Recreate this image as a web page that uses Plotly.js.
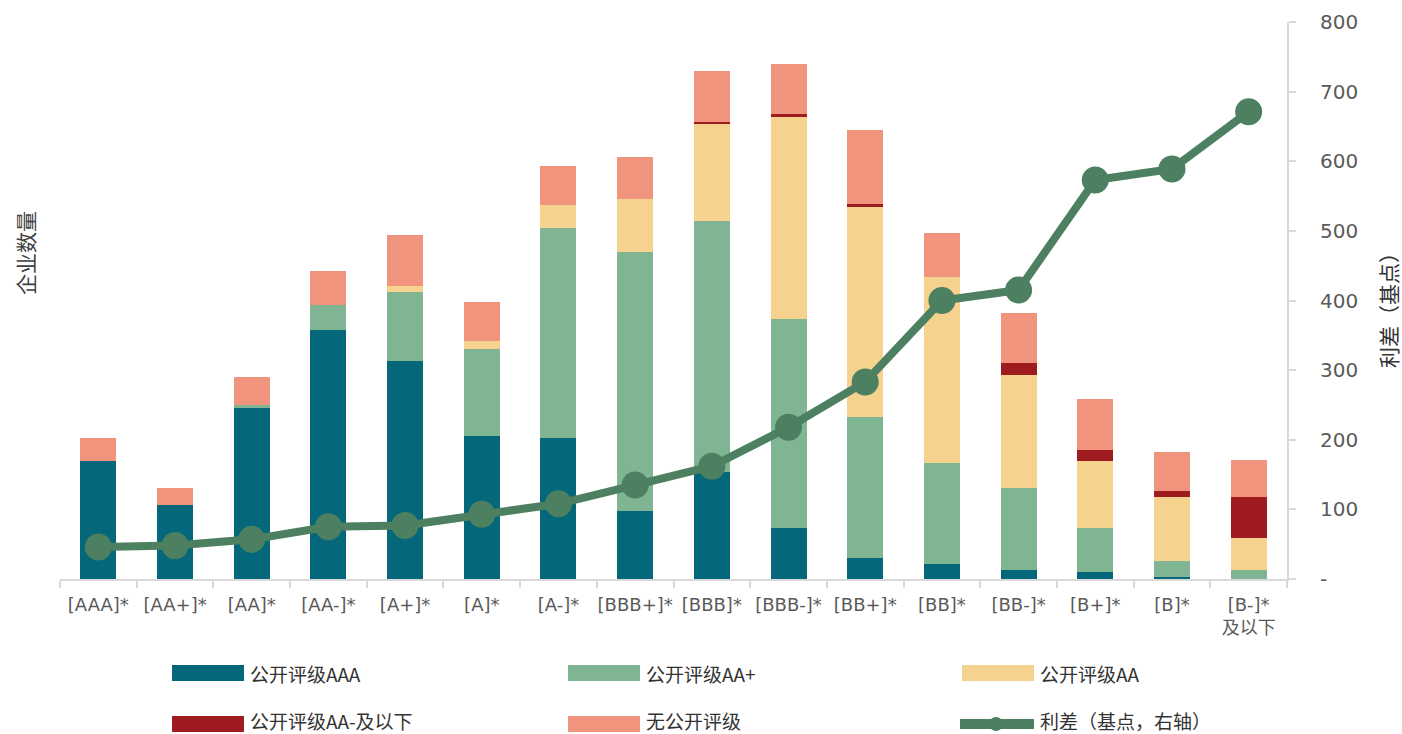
<!DOCTYPE html>
<html>
<head>
<meta charset="utf-8">
<script src="https://cdn.plot.ly/plotly-3.0.1.min.js"></script>
<style>
  html, body { margin: 0; padding: 0; background: #ffffff; }
  #chart { width: 1402px; height: 734px; }
</style>
</head>
<body>
<div id="chart"></div>
<script>
// ---- data ----
var categories = ['[AAA]*', '[AA+]*', '[AA]*', '[AA-]*', '[A+]*', '[A]*', '[A-]*', '[BBB+]*',
                  '[BBB]*', '[BBB-]*', '[BB+]*', '[BB]*', '[BB-]*', '[B+]*', '[B]*', '[B-]*<br>及以下'];
var ratedAAA   = [170, 106, 246, 358, 313, 205, 203,  98, 154,  73,  30,  21,  13,  10,   3,   0];
var ratedAAp   = [  0,   0,   4,  36,  99, 125, 301, 372, 360, 300, 203, 145, 118,  63,  23,  13];
var ratedAA    = [  0,   0,   0,   0,   9,  12,  33,  76, 139, 290, 301, 268, 162,  96,  92,  46];
var ratedAAm   = [  0,   0,   0,   0,   0,   0,   0,   0,   3,   5,   4,   0,  17,  16,   8,  59];
var unrated    = [ 33,  25,  40,  48,  73,  56,  56,  60,  74,  72, 107,  63,  72,  73,  57,  53];
var spreadBp   = [ 46,  48,  57,  75,  77,  93, 108, 135, 162, 218, 283, 400, 415, 573, 589, 671];
var rightTickVals = [0, 100, 200, 300, 400, 500, 600, 700, 800];
var rightTickText = ['-', '100', '200', '300', '400', '500', '600', '700', '800'];

var seriesNames  = ['公开评级AAA', '公开评级AA+', '公开评级AA', '公开评级AA-及以下', '无公开评级'];
var seriesValues = [ratedAAA, ratedAAp, ratedAA, ratedAAm, unrated];
var lineName = '利差（基点，右轴）';

// ---- styles ----
var seriesColors = ['#05687A', '#7FB593', '#F5D28E', '#9E1B20', '#F0947E'];
var lineColor = '#4C8060';
var W = 1402, H = 734;
var M = {l: 60, r: 115, t: 22, b: 155};
var plotW = W - M.l - M.r, plotH = H - M.t - M.b;
function px(x) { return (x - M.l) / plotW; }
function py(y) { return (H - M.b - y) / plotH; }

var traces = [];
for (var i = 0; i < seriesNames.length; i++) {
  traces.push({
    type: 'bar', name: seriesNames[i], x: categories, y: seriesValues[i],
    marker: {color: seriesColors[i], line: {width: 0}},
    yaxis: 'y', showlegend: false, hoverinfo: 'x+y+name'
  });
}
traces.push({
  type: 'scatter', mode: 'lines+markers', name: lineName, x: categories, y: spreadBp,
  yaxis: 'y2', line: {color: lineColor, width: 8}, marker: {color: lineColor, size: 27},
  showlegend: false
});

// custom legend (swatches + labels)
var shapes = [], annotations = [];
var colX = [172, 568, 962];
var rowY = [673, 720];
var legendItems = seriesNames.concat([lineName]);
for (var k = 0; k < legendItems.length; k++) {
  var c = k % 3, r = Math.floor(k / 3);
  var x0 = colX[c], yc = rowY[r];
  var sy = (r === 0) ? yc : yc + 4;
  if (k < seriesNames.length) {
    shapes.push({type: 'rect', xref: 'paper', yref: 'paper',
      x0: px(x0), x1: px(x0 + 72), y0: py(sy + 8), y1: py(sy - 8),
      fillcolor: seriesColors[k], line: {width: 0}});
  } else {
    shapes.push({type: 'line', xref: 'paper', yref: 'paper',
      x0: px(x0 - 2), x1: px(x0 + 72), y0: py(sy), y1: py(sy),
      line: {color: lineColor, width: 10}});
    shapes.push({type: 'circle', xref: 'paper', yref: 'paper',
      x0: px(x0 + 27), x1: px(x0 + 41), y0: py(sy + 7), y1: py(sy - 7),
      fillcolor: lineColor, line: {width: 0}});
  }
  annotations.push({xref: 'paper', yref: 'paper', x: px(x0 + 76), y: py(yc),
    xanchor: 'left', yanchor: 'middle', showarrow: false, text: legendItems[k],
    font: {size: 19, color: '#333333', family: 'Noto Sans CJK SC, DejaVu Sans, sans-serif'}});
}
// left axis title
annotations.push({xref: 'paper', yref: 'paper', x: px(25), y: py(253),
  xanchor: 'center', yanchor: 'middle', showarrow: false, text: '企业数量', textangle: -90,
  font: {size: 21, color: '#404040', family: 'Noto Sans CJK SC, sans-serif'}});
// right axis title
annotations.push({xref: 'paper', yref: 'paper', x: px(1388), y: py(305),
  xanchor: 'center', yanchor: 'middle', showarrow: false, text: '利差（基点）', textangle: -90,
  font: {size: 21, color: '#333333', family: 'Noto Sans CJK SC, sans-serif'}});

var layout = {
  width: W, height: H,
  margin: M,
  paper_bgcolor: '#ffffff', plot_bgcolor: '#ffffff',
  barmode: 'stack', bargap: 0.53,
  showlegend: false,
  font: {family: 'DejaVu Sans, Noto Sans CJK SC, sans-serif', color: '#595959'},
  xaxis: {
    type: 'category', range: [-0.5, categories.length - 0.5],
    showgrid: false, zeroline: false,
    showline: true, linecolor: '#d9d9d9', linewidth: 2,
    ticks: 'outside', tickson: 'boundaries', ticklen: 7, tickcolor: '#d9d9d9', tickwidth: 2,
    ticklabelstandoff: 8,
    tickfont: {size: 18, color: '#5a5a5a', family: 'DejaVu Sans, Noto Sans CJK SC, sans-serif'},
    tickangle: 0, automargin: false
  },
  yaxis: {
    range: [0, 800], visible: false, showgrid: false, zeroline: false, fixedrange: true
  },
  yaxis2: {
    range: [0, 800], overlaying: 'y', side: 'right',
    showgrid: false, zeroline: false,
    showline: true, linecolor: '#d9d9d9', linewidth: 2,
    ticks: 'outside', ticklen: 7, tickcolor: '#d9d9d9', tickwidth: 2,
    tickvals: rightTickVals, ticktext: rightTickText,
    ticklabelstandoff: 20,
    tickfont: {size: 20, color: '#5a5a5a', family: 'DejaVu Sans, sans-serif'},
    automargin: false
  },
  shapes: shapes,
  annotations: annotations
};

Plotly.newPlot('chart', traces, layout, {displayModeBar: false, staticPlot: true});
</script>
</body>
</html>
